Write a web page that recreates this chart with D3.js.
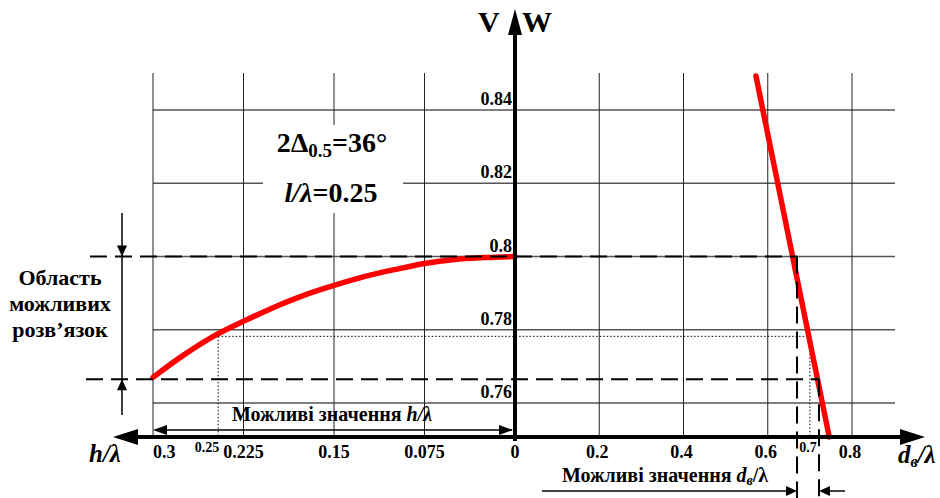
<!DOCTYPE html>
<html><head><meta charset="utf-8">
<script src="https://cdn.jsdelivr.net/npm/d3@7"></script>
<style>
html,body{margin:0;padding:0;background:#fff;}
svg{display:block;}
</style></head>
<body>
<svg id="chart" width="940" height="498"></svg>
<script>
// ---- data ----
const hCurveH = [0, 0.025, 0.05, 0.075, 0.1, 0.125, 0.15, 0.175, 0.2, 0.225, 0.25, 0.275, 0.3];
const hCurveW = [0.8000, 0.7997, 0.7992, 0.7981, 0.7964, 0.7945, 0.7921, 0.7894, 0.7861, 0.7823, 0.7782, 0.7730, 0.7670];
const dLineD = [0.572, 0.746];
const dLineW = [0.8493, 0.7507];
const hTicks = [0.3, 0.225, 0.15, 0.075, 0];
const hTickLabels = ["0.3", "0.225", "0.15", "0.075", "0"];
const dTicks = [0.2, 0.4, 0.6, 0.8];
const dTickLabels = ["0.2", "0.4", "0.6", "0.8"];
const wTicks = [0.76, 0.78, 0.8, 0.82, 0.84];
const wTickLabels = ["0.76", "0.78", "0.8", "0.82", "0.84"];
const wBounds = [0.8, 0.7665];      // region of possible solutions
const dBounds = [0.6695, 0.7217];   // possible d/λ values
const hMark = 0.246, hMarkLabel = "0.25";
const dMark = 0.7, dMarkLabel = "0.7";
const wMark = 0.7782;

// ---- scales ----
const FONT = "Liberation Serif";
const svg = d3.select("#chart");
const xH = d3.scaleLinear().domain([0, 0.3]).range([515, 153]);
const xD = d3.scaleLinear().domain([0, 0.8]).range([515, 852]);
const yW = d3.scaleLinear().domain([0.76, 0.84]).range([403, 110]);
const axisY = 437, gridTop = 73, gridRight = 895;
const x0 = xH(0);

function tri(tipX, tipY, dir, len, half) {
  let p;
  if (dir === "left") p = [[tipX, tipY], [tipX + len, tipY - half], [tipX + len, tipY + half]];
  if (dir === "right") p = [[tipX, tipY], [tipX - len, tipY - half], [tipX - len, tipY + half]];
  if (dir === "up") p = [[tipX, tipY], [tipX - half, tipY + len], [tipX + half, tipY + len]];
  if (dir === "down") p = [[tipX, tipY], [tipX - half, tipY - len], [tipX + half, tipY - len]];
  svg.append("path").attr("d", "M" + p.map(q => q.join(",")).join("L") + "Z").attr("fill", "#000");
}
function line(x1, y1, x2, y2, attrs) {
  const l = svg.append("line").attr("x1", x1).attr("y1", y1).attr("x2", x2).attr("y2", y2);
  Object.entries(attrs).forEach(([k, v]) => l.attr(k, v));
  return l;
}

// ---- grid ----
const g = svg.append("g");
g.selectAll("line.hg").data(wTicks).join("line")
  .attr("x1", xH(0.3)).attr("x2", gridRight)
  .attr("y1", d => yW(d)).attr("y2", d => yW(d))
  .attr("stroke", "#555").attr("stroke-width", 1.3);
g.selectAll("line.vgh").data(hTicks.filter(d => d > 0)).join("line")
  .attr("x1", d => xH(d)).attr("x2", d => xH(d))
  .attr("y1", gridTop).attr("y2", axisY)
  .attr("stroke", "#222").attr("stroke-width", 1);
g.selectAll("line.vgd").data(dTicks).join("line")
  .attr("x1", d => xD(d)).attr("x2", d => xD(d))
  .attr("y1", gridTop).attr("y2", axisY)
  .attr("stroke", "#222").attr("stroke-width", 1);

// white box behind parameter text
svg.append("rect").attr("x", 263).attr("y", 125).attr("width", 140).attr("height", 88).attr("fill", "#fff");

// ---- dotted guide lines ----
const dotted = {stroke: "#000", "stroke-width": 1, "stroke-dasharray": "1.5,2"};
line(xH(hMark), yW(wMark), xD(dMark), yW(wMark), dotted);
line(xH(hMark), yW(wMark), xH(hMark), axisY, dotted);
line(xD(dMark), yW(wMark), xD(dMark), axisY, dotted);

// ---- red curves ----
const curveData = hCurveH.map((h, i) => [h, hCurveW[i]]);
svg.append("path").datum(curveData)
  .attr("d", d3.line().x(d => xH(d[0])).y(d => yW(d[1])).curve(d3.curveMonotoneX))
  .attr("fill", "none").attr("stroke", "#ff0000").attr("stroke-width", 5.5).attr("stroke-linecap", "round");
const lineData = dLineD.map((d, i) => [d, dLineW[i]]);
svg.append("path").datum(lineData)
  .attr("d", d3.line().x(d => xD(d[0])).y(d => yW(d[1])))
  .attr("fill", "none").attr("stroke", "#ff0000").attr("stroke-width", 5.5).attr("stroke-linecap", "round");

// ---- dashed lines ----
const dashed = {stroke: "#000", "stroke-width": 2, "stroke-dasharray": "17,8"};
line(90, yW(wBounds[0]), xD(dBounds[0]), yW(wBounds[0]), dashed);
line(86, yW(wBounds[1]), xD(dBounds[1]), yW(wBounds[1]), dashed);
line(xD(dBounds[0]), yW(wBounds[0]), xD(dBounds[0]), 498, dashed);
line(xD(dBounds[1]), yW(wBounds[1]), xD(dBounds[1]), 498, dashed);

// ---- axes ----
line(125, axisY, 910, axisY, {stroke: "#000", "stroke-width": 4});
tri(113, axisY, "left", 25, 8);
tri(925, axisY, "right", 25, 8);
line(x0, 441, x0, 25, {stroke: "#000", "stroke-width": 4});
tri(x0, 9, "up", 26, 7);

// ---- annotation arrows ----
const thin = {stroke: "#000", "stroke-width": 1.5};
line(122, 213, 122, 415, thin);
tri(122, yW(wBounds[0]), "down", 11, 5);
tri(122, yW(wBounds[1]), "up", 11, 5);
line(xH(0.3) + 2, 430, x0 - 3, 430, thin);
tri(xH(0.3), 430, "left", 14, 5);
tri(x0 - 2, 430, "right", 14, 5);
line(542, 491, xD(dBounds[0]) - 2, 491, thin);
tri(xD(dBounds[0]), 491, "right", 11, 5);
line(845, 491, xD(dBounds[1]) + 2, 491, thin);
tri(xD(dBounds[1]), 491, "left", 11, 5);

// ---- tick labels ----
const tl = svg.append("g").attr("font-weight", "bold").attr("font-size", 18).attr("fill", "#000");
tl.selectAll("text.h").data(hTicks).join("text")
  .attr("x", d => xH(d))
  .attr("y", 458)
  .attr("text-anchor", (d, i) => i === 0 ? "start" : "middle")
  .text((d, i) => hTickLabels[i]);
tl.selectAll("text.d").data(dTicks).join("text")
  .attr("x", d => xD(d) - 2).attr("y", 458).attr("text-anchor", "middle")
  .text((d, i) => dTickLabels[i]);
tl.selectAll("text.w").data(wTicks).join("text")
  .attr("x", x0 - 3).attr("y", d => yW(d) - 5).attr("text-anchor", "end")
  .text((d, i) => wTickLabels[i]);
svg.append("text").attr("x", xH(hMark) + 1).attr("y", 452).attr("text-anchor", "end")
  .attr("font-weight", "bold").attr("font-size", 14).text(hMarkLabel);
svg.append("text").attr("x", xD(dMark) - 2).attr("y", 452).attr("text-anchor", "middle")
  .attr("font-weight", "bold").attr("font-size", 14).text(dMarkLabel);

// ---- axis titles ----
svg.append("text").attr("x", 478).attr("y", 32).attr("font-weight", "bold").attr("font-size", 30).text("V");
svg.append("text").attr("x", 522).attr("y", 32).attr("font-weight", "bold").attr("font-size", 30).text("W");
const ht = svg.append("text").attr("x", 89).attr("y", 462).attr("font-weight", "bold").attr("font-size", 25).attr("font-style", "italic");
ht.append("tspan").text("h/λ");
const dt = svg.append("text").attr("x", 898).attr("y", 463).attr("font-weight", "bold").attr("font-size", 25).attr("font-style", "italic");
dt.append("tspan").text("d");
dt.append("tspan").attr("font-size", 16).attr("dy", 4).text("в");
dt.append("tspan").attr("dy", -4).text("/λ");

// ---- annotation texts ----
const region = svg.append("text").attr("font-weight", "bold").attr("font-size", 22).attr("text-anchor", "middle");
["Область", "можливих", "розв’язок"].forEach((s, i) => {
  region.append("tspan").attr("x", 60).attr("y", 285 + i * 26).text(s);
});
const hv = svg.append("text").attr("x", 232).attr("y", 421).attr("font-weight", "bold").attr("font-size", 20);
hv.append("tspan").text("Можливі значення ");
hv.append("tspan").attr("font-style", "italic").text("h/λ");
const dv = svg.append("text").attr("x", 562).attr("y", 482).attr("font-weight", "bold").attr("font-size", 20);
dv.append("tspan").text("Можливі значення ");
dv.append("tspan").attr("font-style", "italic").text("d");
dv.append("tspan").attr("font-style", "italic").attr("font-size", 14).attr("dy", 3).text("в");
dv.append("tspan").attr("dy", -3).text("/λ");

const p1 = svg.append("text").attr("x", 332).attr("y", 152).attr("font-weight", "bold").attr("font-size", 28).attr("text-anchor", "middle");
p1.append("tspan").text("2Δ");
p1.append("tspan").attr("font-size", 19).attr("dy", 5).text("0.5");
p1.append("tspan").attr("dy", -5).text("=36°");
const p2 = svg.append("text").attr("x", 331).attr("y", 202).attr("font-weight", "bold").attr("font-size", 28).attr("text-anchor", "middle");
p2.append("tspan").attr("font-style", "italic").text("l/λ");
p2.append("tspan").text("=0.25");

svg.selectAll("text").attr("font-family", FONT);
</script>
</body></html>
